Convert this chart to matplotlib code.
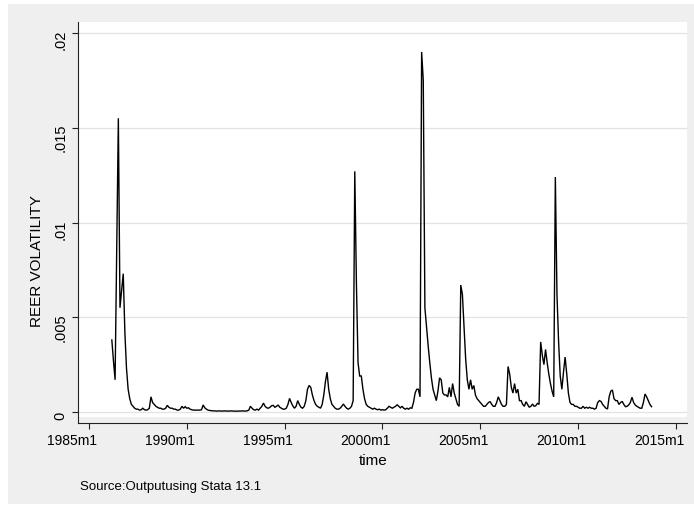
import matplotlib
matplotlib.use("Agg")
import matplotlib.pyplot as plt
from matplotlib.lines import Line2D
from matplotlib.patches import Rectangle
import matplotlib.transforms as mtransforms
import numpy as np

# ---------------- data (monthly REER volatility, 1986m3 .. 2013m10) ----------------
start_year, start_month = 1986, 3
v1986 = [0.0038, 0.0027, 0.0017, 0.0086, 0.0155, 0.0055, 0.0064, 0.0073, 0.0042, 0.0023]
v1987 = [0.0012, 0.0007, 0.0004, 0.0003, 0.0002, 0.00015, 0.00015, 0.0001, 0.00012, 0.0002, 0.00012, 0.0001]
v1988 = [0.00012, 0.0002, 0.0008, 0.0005, 0.0004, 0.0003, 0.00025, 0.0002, 0.0002, 0.00015, 0.00015, 0.0002]
v1989 = [0.00035, 0.00025, 0.0002, 0.0002, 0.00015, 0.00015, 0.0001, 0.0001, 0.00015, 0.0003, 0.0002, 0.00028]
v1990 = [0.0002, 0.00022, 0.00015, 0.00012, 0.0001, 0.0001, 0.0001, 0.0001, 0.0001, 0.00012, 0.00037, 0.00022]
v1991 = [0.00015, 0.0001, 0.00008, 0.00007, 0.00006, 0.00006, 0.00005, 0.00005, 0.00006, 0.00005, 0.00005, 0.00006]
v1992 = [0.00005, 0.00005, 0.00005, 0.00006, 0.00005, 0.00005, 0.00004, 0.00005, 0.00005, 0.00005, 0.00006, 0.00005]
v1993 = [0.00005, 0.00006, 0.0001, 0.0003, 0.0002, 0.00012, 0.0001, 0.00015, 0.0001, 0.0002, 0.0003, 0.00047]
v1994 = [0.0003, 0.00022, 0.0002, 0.00025, 0.00033, 0.00035, 0.00025, 0.0003, 0.00037, 0.00025, 0.0002, 0.00015]
v1995 = [0.00015, 0.0002, 0.0004, 0.00072, 0.0005, 0.00032, 0.0002, 0.0003, 0.0006, 0.0004, 0.00025, 0.0002]
v1996 = [0.0003, 0.0006, 0.0012, 0.0014, 0.0013, 0.0009, 0.0006, 0.0004, 0.0003, 0.00025, 0.0002, 0.0004]
v1997 = [0.0009, 0.0016, 0.0021, 0.0012, 0.0007, 0.0004, 0.0003, 0.0002, 0.00015, 0.00015, 0.0002, 0.0003]
v1998 = [0.00042, 0.0003, 0.0002, 0.00015, 0.0002, 0.0003, 0.0006, 0.0127, 0.0068, 0.0026, 0.0019, 0.0019]
v1999 = [0.0012, 0.0007, 0.0004, 0.0003, 0.00025, 0.0002, 0.00015, 0.0002, 0.00015, 0.00012, 0.00015, 0.0001]
v2000 = [0.00012, 0.0001, 0.00012, 0.0002, 0.0003, 0.00025, 0.0002, 0.00025, 0.0003, 0.00038, 0.0003, 0.00022]
v2001 = [0.0003, 0.0002, 0.00015, 0.0002, 0.00015, 0.00022, 0.0002, 0.0005, 0.001, 0.0012, 0.0012, 0.0008]
v2002 = [0.019, 0.0175, 0.0055, 0.0045, 0.0035, 0.0026, 0.0018, 0.0012, 0.0009, 0.0006, 0.0011, 0.0018]
v2003 = [0.0017, 0.001, 0.0009, 0.0009, 0.0008, 0.0013, 0.0008, 0.0015, 0.001, 0.0007, 0.0004, 0.0003]
v2004 = [0.0067, 0.0062, 0.0045, 0.0028, 0.0017, 0.0012, 0.0017, 0.0012, 0.0014, 0.0009, 0.0007, 0.0006]
v2005 = [0.0005, 0.0004, 0.0003, 0.0003, 0.0004, 0.0005, 0.00055, 0.0004, 0.0003, 0.0003, 0.0005, 0.0008]
v2006 = [0.0006, 0.0004, 0.0003, 0.0003, 0.0004, 0.0024, 0.002, 0.0013, 0.001, 0.0015, 0.001, 0.0012]
v2007 = [0.0006, 0.0006, 0.0004, 0.0003, 0.00054, 0.0004, 0.00025, 0.0003, 0.00042, 0.0003, 0.00033, 0.00046]
v2008 = [0.0004, 0.0037, 0.003, 0.0025, 0.0033, 0.0026, 0.002, 0.0015, 0.0011, 0.0008, 0.0124, 0.0062]
v2009 = [0.0037, 0.0019, 0.0012, 0.0021, 0.0029, 0.002, 0.001, 0.0005, 0.0004, 0.0004, 0.0003, 0.0003]
v2010 = [0.00025, 0.0002, 0.0002, 0.0003, 0.0002, 0.00025, 0.0002, 0.00025, 0.0002, 0.0002, 0.00015, 0.0002]
v2011 = [0.0005, 0.0006, 0.00056, 0.0004, 0.0003, 0.0002, 0.00016, 0.0008, 0.0011, 0.00116, 0.0007, 0.0006]
v2012 = [0.0006, 0.0004, 0.0005, 0.00056, 0.0004, 0.00028, 0.0003, 0.00037, 0.0005, 0.00078, 0.0005, 0.00037]
v2013 = [0.0003, 0.00025, 0.0002, 0.0002, 0.0005, 0.00095, 0.0008, 0.0006, 0.0004, 0.00028]

values = np.array(v1986 + v1987 + v1988 + v1989 + v1990 + v1991 + v1992 + v1993 + v1994 +
                  v1995 + v1996 + v1997 + v1998 + v1999 + v2000 + v2001 + v2002 + v2003 +
                  v2004 + v2005 + v2006 + v2007 + v2008 + v2009 + v2010 + v2011 + v2012 + v2013)

tick_years = [1985, 1990, 1995, 2000, 2005, 2010, 2015]
tick_labels = ["1985m1", "1990m1", "1995m1", "2000m1", "2005m1", "2010m1", "2015m1"]
ytick_vals = [0, 0.005, 0.01, 0.015, 0.02]
ytick_labels = ["0", ".005", ".01", ".015", ".02"]

# months since 1985m1
base_year = 1985
months = (start_year - base_year) * 12 + (start_month - 1) + np.arange(len(values))
tick_pos = [(y - base_year) * 12 for y in tick_years]

# ---------------- figure ----------------
W, H = 694, 506
plt.rcParams['font.family'] = ['Liberation Sans', 'DejaVu Sans']
fig = plt.figure(figsize=(W / 100, H / 100), dpi=100)
fig.patch.set_facecolor('white')

def fx(px):
    return px / W

def fy(py):
    return 1 - py / H

gray = '#efefef'
fig.add_artist(Rectangle((fx(8), fy(505)), fx(694) - fx(8), fy(5) - fy(505),
                         transform=fig.transFigure, facecolor=gray, edgecolor='none', zorder=0))

ax_l, ax_r, ax_t, ax_b = 78, 687, 23, 418
ax = fig.add_axes([fx(ax_l), fy(ax_b), fx(ax_r) - fx(ax_l), fy(ax_t) - fy(ax_b)])
ax.set_facecolor('white')

# pixel mapping: 1985m1 -> x=89, 2015m1 -> x=676; 0 -> y=413, .02 -> y=34
pxm = (676 - 89) / 360.0
ax.set_xlim(-(89 - ax_l) / pxm, 360 + (ax_r - 676) / pxm)
pyu = (413 - 34) / 0.02
ax.set_ylim(-(ax_b - 413) / pyu, 0.02 + (34 - ax_t) / pyu)

ax.plot(months, values, color='black', lw=1.0, solid_joinstyle='miter', zorder=3)

ax.set_yticks(ytick_vals)
ax.set_yticklabels(ytick_labels, rotation=90, va='center', fontsize=10.5)
ax.set_xticks(tick_pos)
ax.set_xticklabels(tick_labels, fontsize=10.5)
ax.grid(axis='y', color='#e2e2e2', lw=0.9)
ax.grid(axis='x', visible=False)
ax.set_axisbelow(True)

for s in ['top', 'right', 'left']:
    ax.spines[s].set_visible(False)
ax.spines['bottom'].set_position(('outward', 6 * 72 / 100))
ax.spines['bottom'].set_color('#222222')
ax.spines['bottom'].set_linewidth(0.8)
ax.tick_params(axis='both', direction='out', length=4.5, width=0.8, color='#222222', pad=3)

# left axis line extended to meet bottom axis
fig.add_artist(Line2D([fx(77.5), fx(77.5)], [fy(ax_t), fy(424)], transform=fig.transFigure,
                      color='#222222', lw=0.8))

# shift tick labels like Stata's rendering
xoff = mtransforms.ScaledTranslation(-17 / 100, 0, fig.dpi_scale_trans)
for lab in ax.get_xticklabels():
    lab.set_transform(lab.get_transform() + xoff)
ydowns = [2.5, 9, 6, 9, 6]
for lab, d in zip(ax.get_yticklabels(), ydowns):
    lab.set_transform(lab.get_transform() + mtransforms.ScaledTranslation(0, -d / 100, fig.dpi_scale_trans))

fig.text(fx(37), fy(261), 'REER VOLATILITY', rotation=90, ha='center', va='center', fontsize=11)
fig.text(fx(373.5), fy(461), 'time', ha='center', va='center', fontsize=11)
fig.text(fx(80), fy(487), 'Source:Outputusing Stata 13.1', ha='left', va='center', fontsize=9.5)

fig.savefig('out.png', dpi=100, facecolor=fig.get_facecolor())
